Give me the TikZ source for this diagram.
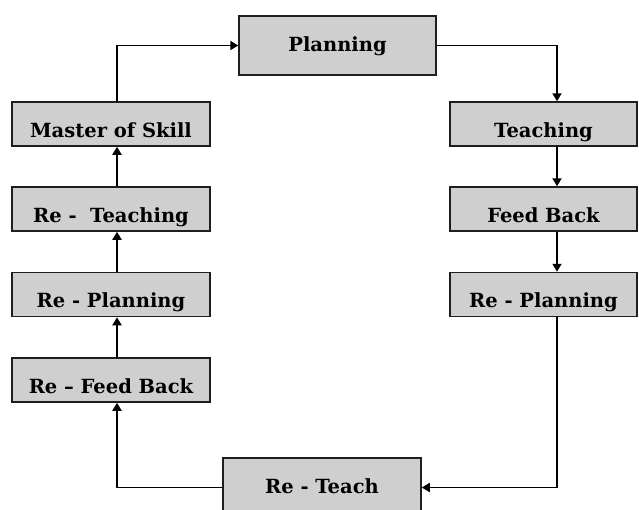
\documentclass[tikz,border=0pt]{standalone}
\usepackage{fontspec}
\setmainfont{DejaVu Serif}
\usetikzlibrary{arrows.meta}
\definecolor{boxgray}{RGB}{207,207,207}
\definecolor{edgegray}{RGB}{30,30,30}
\begin{document}
\begin{tikzpicture}[x=1pt,y=-1pt,
  stage/.style={draw=edgegray, fill=boxgray, line width=1.5pt, rectangle,
    inner sep=0pt, font=\bfseries\fontsize{19.5}{22}\selectfont},
  smallstage/.style={stage, minimum height=44pt, text height=26pt, text depth=0pt},
  bigstage/.style={stage, minimum height=59pt, text height=14pt, text depth=2pt},
  leftstage/.style={smallstage, minimum width=198pt},
  rightstage/.style={smallstage, minimum width=187pt},
  flow/.style={line width=1.8pt, -{Triangle[length=8pt,width=9pt]}}
]
\useasboundingbox (0,0) rectangle (639,509);
\clip (0,0) rectangle (639,509);

% top and bottom stages
\node[bigstage, minimum width=197pt] (planning) at (337.5,45.5) {Planning};
\node[bigstage, minimum width=198pt] (reteach) at (322,487.5) {Re - Teach};

% right column
\node[rightstage] (teaching) at (543.5,124) {Teaching};
\node[rightstage] (feedback) at (543.5,209) {Feed Back};
\node[rightstage] (replanR)  at (543.5,294.5) {Re - Planning};

% left column
\node[leftstage] (master)  at (111,124) {Master of Skill};
\node[leftstage] (reteachL) at (111,209) {Re -\ \ Teaching};
\node[leftstage] (replanL) at (111,294.5) {Re - Planning};
\node[leftstage] (refeed)  at (111,380) {Re – Feed Back};

% cycle connectors
\draw[flow] ([xshift=6pt]master.north) |- (planning.west);
\draw[flow] (planning.east) -| ([xshift=13.5pt]teaching.north);
\draw[flow] ([xshift=13.5pt]teaching.south) -- ([xshift=13.5pt]feedback.north);
\draw[flow] ([xshift=13.5pt]feedback.south) -- ([xshift=13.5pt]replanR.north);
\draw[flow] ([xshift=13.5pt]replanR.south) |- (reteach.east);
\draw[flow] (reteach.west) -| ([xshift=6pt]refeed.south);
\draw[flow] ([xshift=6pt]refeed.north) -- ([xshift=6pt]replanL.south);
\draw[flow] ([xshift=6pt]replanL.north) -- ([xshift=6pt]reteachL.south);
\draw[flow] ([xshift=6pt]reteachL.north) -- ([xshift=6pt]master.south);
\end{tikzpicture}
\end{document}
